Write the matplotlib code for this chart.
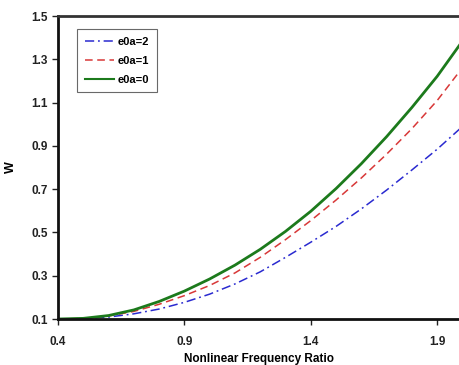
# -*- coding: utf-8 -*-
import numpy as np
import matplotlib
matplotlib.use("Agg")
import matplotlib.pyplot as plt
##################################################
ratio = [0.4, 0.5, 0.6, 0.7, 0.8, 0.9, 1.0, 1.1, 1.2, 1.3, 1.4, 1.5, 1.6, 1.7, 1.8, 1.9, 2.0]
w_e0a2 = [0.100, 0.102, 0.109, 0.124, 0.146, 0.177, 0.215, 0.262, 0.318, 0.385, 0.455, 0.528, 0.609, 0.696, 0.789, 0.885, 0.990]
w_e0a1 = [0.100, 0.103, 0.114, 0.135, 0.168, 0.208, 0.255, 0.313, 0.385, 0.467, 0.555, 0.650, 0.752, 0.862, 0.980, 1.110, 1.262]
w_e0a0 = [0.100, 0.103, 0.116, 0.142, 0.181, 0.229, 0.285, 0.349, 0.422, 0.505, 0.598, 0.703, 0.818, 0.943, 1.078, 1.222, 1.385]
xticks = [0.4, 0.9, 1.4, 1.9]
yticks = [0.1, 0.3, 0.5, 0.7, 0.9, 1.1, 1.3, 1.5]
##################################################
plt.rcParams['font.family'] = ['Liberation Sans', 'DejaVu Sans']
plt.rcParams['font.weight'] = 'bold'

fig = plt.figure(figsize=(4.6, 3.65), dpi=100)
ax = fig.add_axes([0.126, 0.126, 0.874, 0.830])

ax.plot(ratio, w_e0a2, color='#2a2ad0', lw=1.1, dashes=(6, 2.5, 1.2, 2.5), label='e0a=2')
ax.plot(ratio, w_e0a1, color='#d83838', lw=1.1, dashes=(5, 3), label='e0a=1')
ax.plot(ratio, w_e0a0, color='#1c7a1c', lw=2.0, label='e0a=0')

ax.set_xlim(0.4, 1.99)
ax.set_ylim(0.1, 1.5)
ax.set_xticks(xticks)
ax.set_yticks(yticks)
ax.set_xticklabels(['%.1f' % v for v in xticks])
ax.set_yticklabels(['%.1f' % v for v in yticks])
ax.tick_params(axis='both', direction='out', length=4, width=1, labelsize=8.5, colors='#222222')
ax.tick_params(axis='x', pad=8)

for s in ['left', 'bottom']:
    ax.spines[s].set_linewidth(2)
    ax.spines[s].set_color('#111111')
ax.spines['top'].set_linewidth(2)
ax.spines['top'].set_color('#333333')
ax.spines['right'].set_visible(False)

ax.set_xlabel('Nonlinear Frequency Ratio', fontsize=8.5, fontweight='bold', labelpad=4)
ax.set_ylabel('W', fontsize=9, fontweight='bold', labelpad=10)

leg = ax.legend(loc='upper left', bbox_to_anchor=(0.047, 0.957), borderaxespad=0, fontsize=8,
                frameon=True, fancybox=False, handlelength=2.6, borderpad=0.7, labelspacing=0.8,
                handletextpad=0.4)
leg.get_frame().set_edgecolor('#444444')
leg.get_frame().set_linewidth(0.8)
leg.get_lines()[2].set_linewidth(1.5)

plt.savefig('out.png', dpi=100)
